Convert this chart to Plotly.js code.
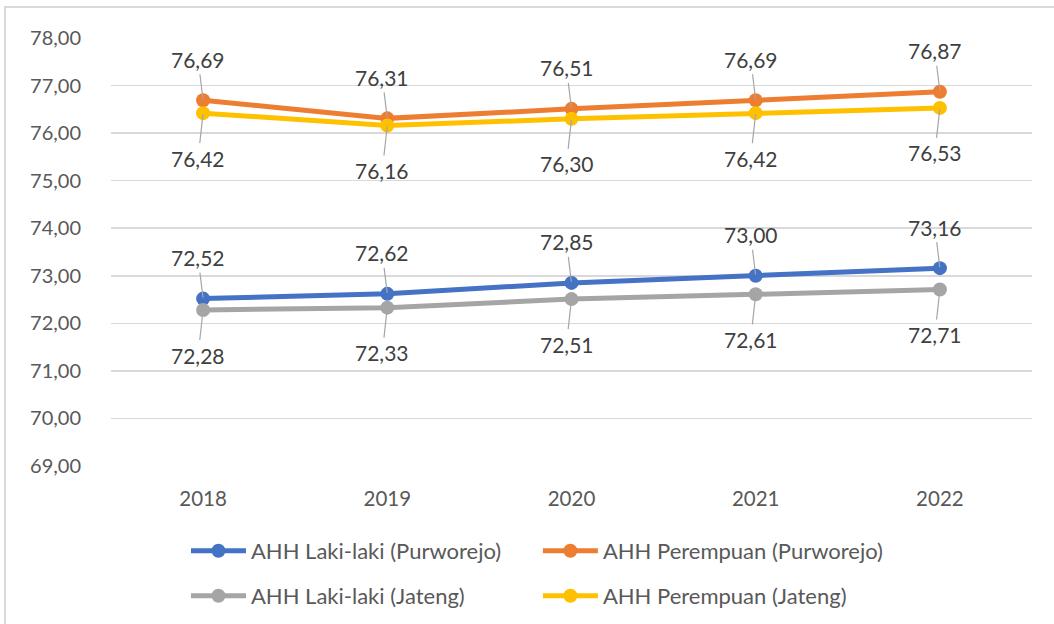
<!DOCTYPE html>
<html>
<head>
<meta charset="utf-8">
<script src="https://cdn.plot.ly/plotly-3.0.1.min.js"></script>
<style>
  html, body { margin: 0; padding: 0; background: #ffffff; }
  #wrap { position: relative; width: 1054px; height: 624px; overflow: hidden; }
  #chart { position: absolute; left: 0; top: 0; width: 1054px; height: 624px; }
  #frame { position: absolute; left: 4px; top: 6px; width: 1100px; height: 700px;
           border-left: 2px solid #d9d9d9; border-top: 2px solid #d9d9d9; pointer-events: none; }
</style>
</head>
<body>
<div id="wrap">
  <div id="chart"></div>
  <div id="frame"></div>
</div>
<script>
// ---- data ----
var years = ['2018', '2019', '2020', '2021', '2022'];
var lakiPurworejo = [72.52, 72.62, 72.85, 73.00, 73.16];
var perempuanPurworejo = [76.69, 76.31, 76.51, 76.69, 76.87];
var lakiJateng = [72.28, 72.33, 72.51, 72.61, 72.71];
var perempuanJateng = [76.42, 76.16, 76.30, 76.42, 76.53];
var seriesNames = ['AHH Laki-laki (Purworejo)', 'AHH Perempuan (Purworejo)',
                   'AHH Laki-laki (Jateng)', 'AHH Perempuan (Jateng)'];
var yTickVals = [69, 70, 71, 72, 73, 74, 75, 76, 77, 78];

// ---- style ----
var FONT = 'Lato, "Open Sans", sans-serif';
var colors = ['#4472c4', '#ed7d31', '#a5a5a5', '#ffc000'];
var seriesData = [lakiPurworejo, perempuanPurworejo, lakiJateng, perempuanJateng];
var labelAbove = [true, true, false, false];
var legendIds = ['legend', 'legend2', 'legend3', 'legend4'];

var traces = seriesData.map(function (vals, i) {
  return {
    x: years, y: vals, name: seriesNames[i], type: 'scatter', mode: 'lines+markers',
    line: { color: colors[i], width: 5 },
    marker: { color: colors[i], size: 14 },
    legend: legendIds[i],
    hoverinfo: 'skip'
  };
});

var annotations = [];
seriesData.forEach(function (vals, i) {
  vals.forEach(function (v, j) {
    annotations.push({
      x: j, y: v, xref: 'x', yref: 'y',
      text: v.toFixed(2).replace('.', ','),
      showarrow: true, arrowhead: 0, arrowwidth: 1.2, arrowcolor: '#a6a6a6',
      ax: -5, ay: labelAbove[i] ? -41 : 45, standoff: 1, borderpad: 2,
      font: { family: FONT, size: 21, color: '#404040' }
    });
  });
});

function legendAt(x, y) {
  return {
    x: x, y: y, xanchor: 'left', yanchor: 'middle', orientation: 'h',
    bgcolor: 'rgba(0,0,0,0)', borderwidth: 0, itemwidth: 55,
    font: { family: FONT, size: 22, color: '#595959' }
  };
}

var layout = {
  width: 1054, height: 624,
  margin: { l: 111, r: 22, t: 38, b: 158, autoexpand: false },
  paper_bgcolor: '#ffffff', plot_bgcolor: '#ffffff',
  separators: ',.',
  font: { family: FONT, size: 20, color: '#595959' },
  xaxis: {
    type: 'category', range: [-0.5, 4.5], showgrid: false, zeroline: false,
    showline: false, ticks: '', ticklabelstandoff: 18,
    tickfont: { family: FONT, size: 20.5, color: '#595959' }
  },
  yaxis: {
    range: [69, 78], tickvals: yTickVals, tickformat: '.2f',
    showgrid: true, gridcolor: '#d9d9d9', gridwidth: 1.5, zeroline: false,
    showline: false, ticks: '', ticklabelstandoff: 29,
    tickfont: { family: FONT, size: 20, color: '#595959' }
  },
  showlegend: true,
  legend: legendAt(0.0814, -0.1986),
  legend2: legendAt(0.4635, -0.1986),
  legend3: legendAt(0.0814, -0.3037),
  legend4: legendAt(0.4635, -0.3037),
  annotations: annotations
};

Plotly.newPlot('chart', traces, layout, { displayModeBar: false, staticPlot: true });
</script>
</body>
</html>
